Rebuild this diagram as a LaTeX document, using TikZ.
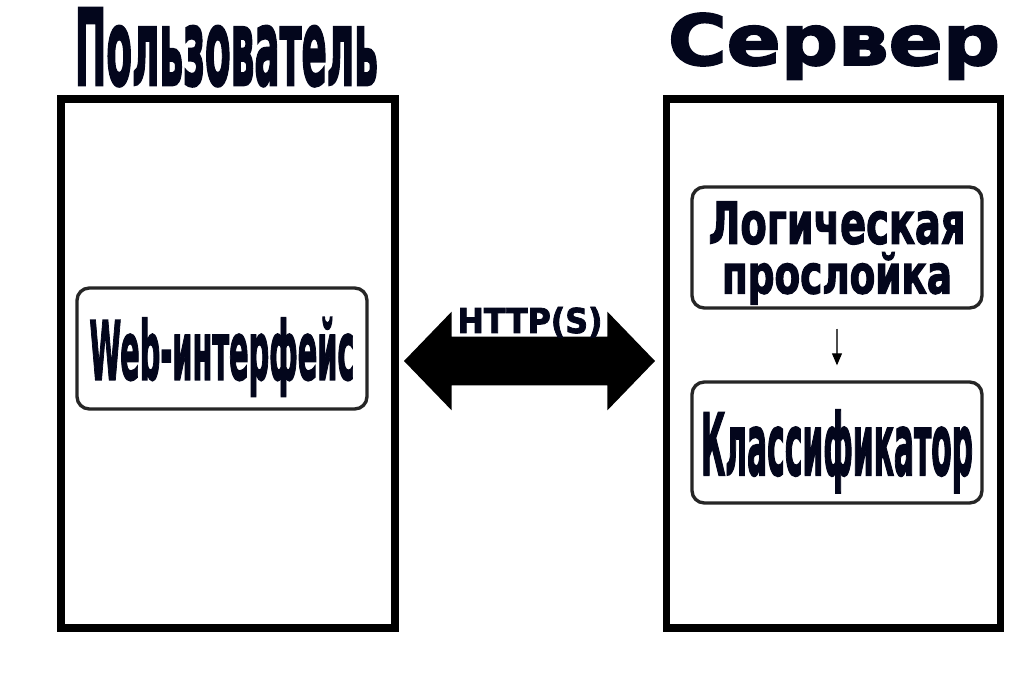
\documentclass[tikz,border=0pt]{standalone}
\usepackage{fontspec}
\setmainfont{DejaVu Sans}[BoldFeatures={FakeBold=2.5}]
\usepackage{amsmath}
\usepackage{graphicx}
\usetikzlibrary{arrows.meta,shapes.arrows}
\definecolor{ink}{HTML}{03061C}
\definecolor{unitLine}{HTML}{262626}
\tikzset{
  every node/.append style = {text=ink, font=\bfseries},
  % --- the two sides ------------------------------------------------------
  panel/.style    = {draw=black, line width=4.4pt, fill=white, inner sep=0pt,
                     minimum width=6.68cm, minimum height=10.58cm},
  heading/.style  = {anchor=base, inner sep=0pt},
  % --- components ---------------------------------------------------------
  unit/.style     = {draw=unitLine, line width=1.9pt, rounded corners=7pt,
                     fill=white, inner sep=0pt, align=center,
                     minimum width=5.8cm, minimum height=2.42cm},
  % --- relations ----------------------------------------------------------
  wire/.style     = {double arrow, fill=black, draw=none, inner xsep=0pt,
                     inner ysep=0.48cm, minimum height=5.02cm,
                     double arrow head extend=0.5cm, double arrow tip angle=92},
  flowlink/.style = {draw=black!70, line width=0.6pt,
                     -{Triangle[length=2.4mm,width=2mm,color=black]}},
}
\newcommand{\fitword}[3]{\resizebox{#1}{#2}{\smash[b]{#3}}}

\begin{document}
\begin{tikzpicture}
\useasboundingbox (0,0) rectangle (20.48,13.82);

% ============================ the two sides ================================
\node[panel] (user)   at (4.56,6.55)  {};
\node[panel] (server) at (16.67,6.55) {};

\node[heading] (userhead)   at (4.53,12.12)  {\fitword{6.06cm}{1.54cm}{Пользователь}};
\node[heading] (serverhead) at (16.68,12.52) {\fitword{6.64cm}{1.04cm}{Сервер}};

% ============================ components ===================================
\node[unit] (web)   at (4.44,6.85)  {\fitword{5.3cm}{1.24cm}{Web-интерфейс}};
\node[unit] (logic) at (16.74,8.87)
     {\fitword{5.14cm}{0.84cm}{Логическая}\\[0.14cm]\fitword{4.6cm}{0.82cm}{прослойка}};
\node[unit] (clf)   at (16.74,4.97) {\fitword{5.44cm}{1.3cm}{Классификатор}};

\draw[flowlink, shorten <=0.38cm, shorten >=0.3cm] (logic.south) -- (clf.north);

% ============================ the link =====================================
\node[wire] (link) at (10.59,6.6) {};
\node[heading] (proto) at (10.6,7.16) {\fitword{2.9cm}{0.52cm}{HTTP(S)}};

\end{tikzpicture}
\end{document}
